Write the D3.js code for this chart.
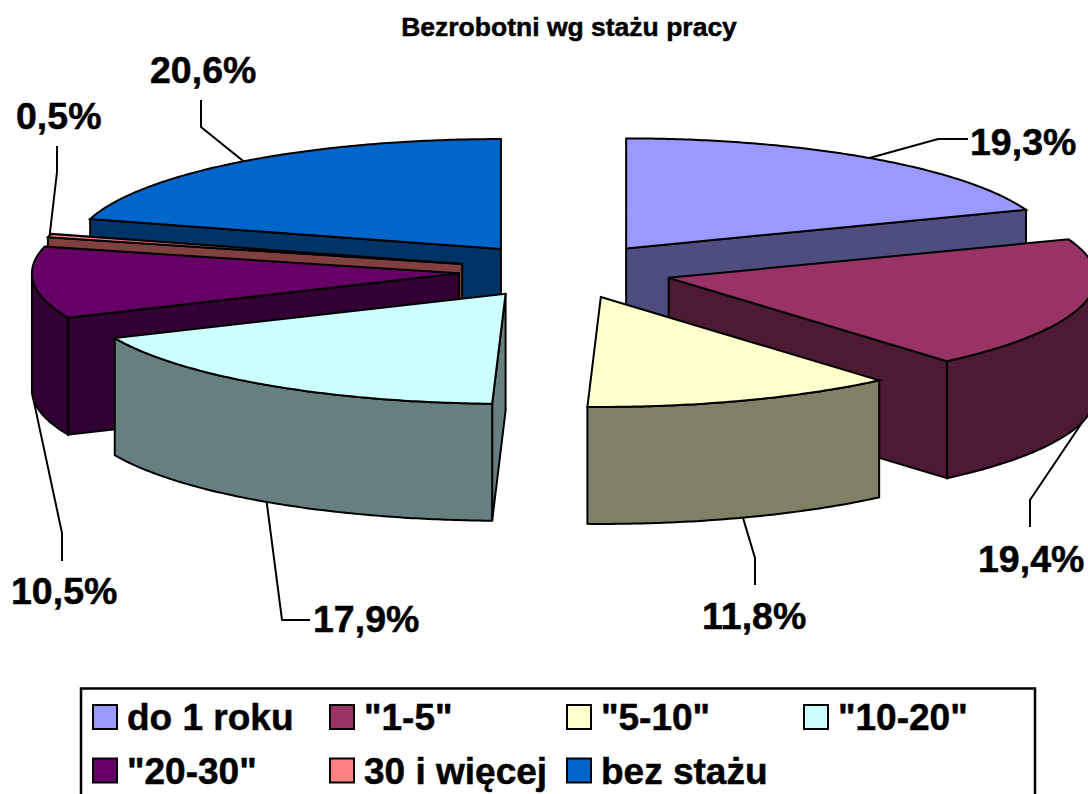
<!DOCTYPE html>
<html>
<head>
<meta charset="utf-8">
<script src="https://cdn.jsdelivr.net/npm/d3@7"></script>
<style>
    body {margin: 0; background: #fff;}
    svg {display: block;}
    text {font-family: "Liberation Sans", Arial, sans-serif; font-weight: bold; fill: #000; stroke: #000; stroke-width: 0.5;}
</style>
</head>
<body>
<svg id="chart" width="1088" height="794"></svg>
<script>
const title = 'Bezrobotni wg stażu pracy'
const categories = ['do 1 roku', '"1-5"', '"5-10"', '"10-20"', '"20-30"', '30 i więcej', 'bez stażu']
const values = [19.3, 19.4, 11.8, 17.9, 10.5, 0.5, 20.6]
const valueLabels = ['19,3%', '19,4%', '11,8%', '17,9%', '10,5%', '0,5%', '20,6%']
const topColors = ['#9999ff', '#993366', '#ffffcc', '#ccffff', '#660066', '#ff8080', '#0066cc']
const sideColors = ['#4d4d80', '#4d1a33', '#808066', '#668080', '#330033', '#804040', '#003366']

//Where each label sits and how its leader line runs to it
const labelPos = [[970, 155], [978, 572], [702, 629], [313, 632], [11, 604], [16, 129], [150, 83]]
const leaderBends = [
    [[938, 139], [968, 139]],
    [[1030, 500], [1030, 527]],
    [[755, 558], [755, 585]],
    [[282, 620], [310, 620]],
    [[62, 533], [62, 561]],
    [[57, 172], [57, 146]],
    [[201, 127], [201, 100]]
]

const explode = 0.25
const depth = 117

const svg = d3.select('#chart')

//Unit circle to screen, squashed for the 3D look
const x = d3.scaleLinear().domain([-1, 1]).range([565.3 - 427, 565.3 + 427])
const y = d3.scaleLinear().domain([-1, 1]).range([271 - 110, 271 + 110])
const line = d3.line()

const slices = d3.pie().sort(null).value(d => d)(values).map((s, i) => {
    const mid = (s.startAngle + s.endAngle) / 2
    return {
        i: i,
        start: s.startAngle,
        end: s.endAngle,
        mid: mid,
        ox: explode * Math.sin(mid),
        oy: -explode * Math.cos(mid)
    }
})

function point(s, angle, r, drop) {
    return [
        x(s.ox + r * Math.sin(angle)),
        y(s.oy - r * Math.cos(angle)) + drop
    ]
}

function arcPoints(s, from, to, drop) {
    const n = Math.max(2, Math.ceil((to - from) / 0.01))
    return d3.range(n + 1).map(k => point(s, from + (to - from) * k / n, 1, drop))
}

function addFace(g, pts, fill) {
    g.append('path')
        .attr('d', line(pts) + 'Z')
        .attr('fill', fill)
        .attr('stroke', '#000')
        .attr('stroke-width', 2)
        .attr('stroke-linejoin', 'miter')
}

function cutFace(g, s, a) {
    addFace(g, [
        point(s, a, 0, 0),
        point(s, a, 1, 0),
        point(s, a, 1, depth),
        point(s, a, 0, depth)
    ], sideColors[s.i])
}

//Slices further back go first
const order = slices.slice().sort((a, b) => d3.ascending(y(a.oy), y(b.oy)))

order.forEach(s => {
    const g = svg.append('g')

    //cut faces, only the ones turned towards us
    if (Math.sin(s.start) < 0) cutFace(g, s, s.start)
    if (Math.sin(s.end) > 0) cutFace(g, s, s.end)

    //outer wall, only the part that faces us
    const wallFrom = Math.max(s.start, Math.PI / 2)
    const wallTo = Math.min(s.end, Math.PI * 3 / 2)
    if (wallTo > wallFrom) {
        addFace(g, arcPoints(s, wallFrom, wallTo, 0).concat(arcPoints(s, wallFrom, wallTo, depth).reverse()), sideColors[s.i])
    }

    //top
    addFace(g, [point(s, 0, 0, 0)].concat(arcPoints(s, s.start, s.end, 0)), topColors[s.i])
})

//Leader lines and value labels
slices.forEach(s => {
    const onWall = s.mid > Math.PI / 2 && s.mid < Math.PI * 3 / 2
    const startPt = point(s, s.mid, 1, onWall ? depth : 0)
    svg.append('path')
        .attr('d', line([startPt].concat(leaderBends[s.i])))
        .attr('fill', 'none')
        .attr('stroke', '#000')
        .attr('stroke-width', 2)
    svg.append('text')
        .attr('x', labelPos[s.i][0])
        .attr('y', labelPos[s.i][1])
        .attr('font-size', 37.5)
        .text(valueLabels[s.i])
})

svg.append('text')
    .attr('x', 569)
    .attr('y', 36)
    .attr('text-anchor', 'middle')
    .attr('font-size', 26.5)
    .text(title)

//Legend, its lower edge runs off the picture
svg.append('rect')
    .attr('x', 81)
    .attr('y', 688.5)
    .attr('width', 954)
    .attr('height', 140)
    .attr('fill', '#fff')
    .attr('stroke', '#000')
    .attr('stroke-width', 2.5)

const legendX = d3.scalePoint().domain(d3.range(4)).range([93, 804])
const legendY = d3.scalePoint().domain(d3.range(2)).range([705, 758.5])

const legendItems = svg.selectAll('.legend-item')
    .data(categories)
    .enter().append('g')
    .attr('class', 'legend-item')
    .attr('transform', (d, i) => `translate(${legendX(i % 4)},${legendY(Math.floor(i / 4))})`)

legendItems.append('rect')
    .attr('width', 24)
    .attr('height', 24)
    .attr('fill', (d, i) => topColors[i])
    .attr('stroke', '#000')
    .attr('stroke-width', 2)

legendItems.append('text')
    .attr('x', 34)
    .attr('y', 25)
    .attr('font-size', 37)
    .text(d => d)
</script>
</body>
</html>
